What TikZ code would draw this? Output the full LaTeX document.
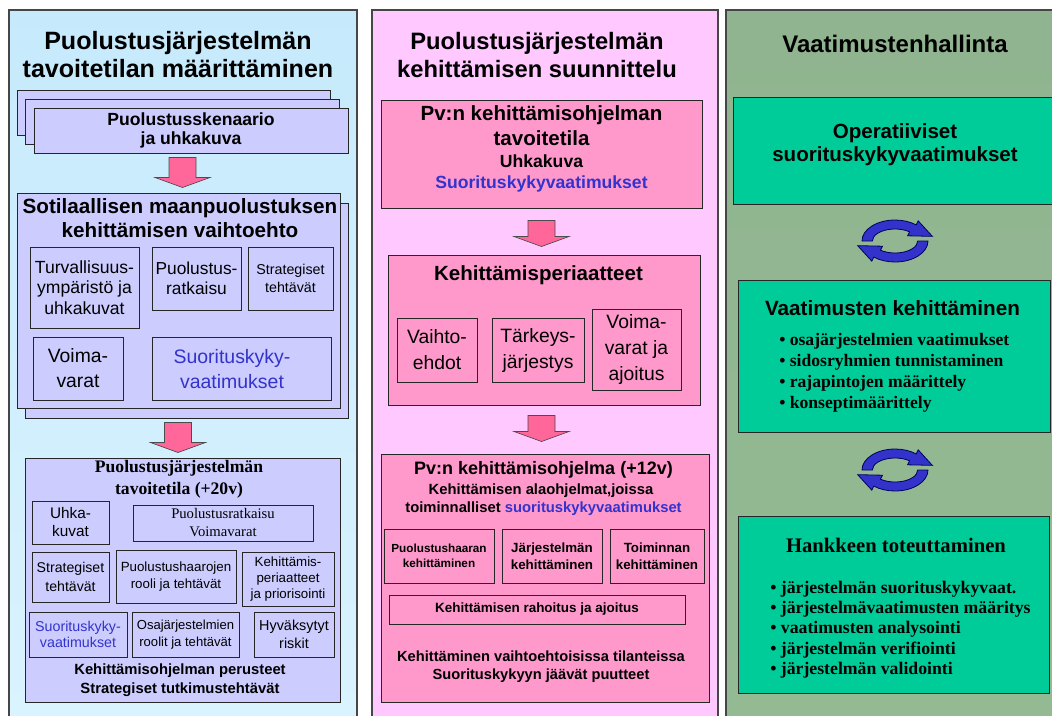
\documentclass[tikz,border=0pt]{standalone}
\usepackage{fontspec}
\setmainfont{Liberation Serif}
\setsansfont{Liberation Sans}
\usetikzlibrary{calc}

\definecolor{lav}{RGB}{204,204,255}
\definecolor{pinkbox}{RGB}{255,153,204}
\definecolor{pinkarrow}{RGB}{255,102,153}
\definecolor{tealbox}{RGB}{0,204,153}
\definecolor{reqblue}{RGB}{51,51,204}
\definecolor{cycblue}{RGB}{51,51,204}
\definecolor{cycedge}{RGB}{0,0,90}
\definecolor{frame}{RGB}{70,70,70}

\newcommand{\fsz}[2]{\fontsize{#1pt}{#2pt}\selectfont}

% rectangular node given by its corners (px units)
\newcommand{\boxnode}[7]{%
  \node[#1, minimum width={(#5-#3)*0.75pt}, minimum height={(#6-#4)*0.75pt}] (#2)
    at ({(#3+#5)/2},{(#4+#6)/2}) {#7};}

% pink block arrow between two nodes: x, upper, lower, top gap, bottom gap
\newcommand{\flowarrow}[5]{%
  \coordinate (fa0) at (#1,0);
  \filldraw[pinkarr] ($(fa0 |- #2.south)+(-13.5,#4)$) -- ($(fa0 |- #2.south)+(13.5,#4)$)
    -- ($(fa0 |- #3.north)+(13.5,-#5-10)$) -- ($(fa0 |- #3.north)+(27.5,-#5-10)$)
    -- ($(fa0 |- #3.north)+(0,-#5)$) -- ($(fa0 |- #3.north)+(-27.5,-#5-10)$)
    -- ($(fa0 |- #3.north)+(-13.5,-#5-10)$) -- cycle;}

% two curved arrows forming a cycle
\newcommand{\cycleicon}[1]{%
  \begin{scope}[shift={(#1)}]
    \foreach \r in {0,180}{
      \filldraw[fill=cycblue, draw=cycedge, line width=0.6pt, rotate=\r]
        (180:24.75pt and 15.75pt)
        arc[start angle=180, end angle=50, x radius=24.75pt, y radius=15.75pt]
        -- (17.4pt,15.1pt) -- (28pt,3.5pt) -- (9.4pt,3.9pt)
        -- (50:17pt and 9pt)
        arc[start angle=50, end angle=180, x radius=17pt, y radius=9pt] -- cycle;}
  \end{scope}}

\tikzset{
  colframe/.style={draw=frame, line width=1.1pt},
  lcol/.style={colframe, top color={rgb,255:red,198;green,234;blue,252}, bottom color={rgb,255:red,218;green,243;blue,255}},
  mcol/.style={colframe, top color={rgb,255:red,255;green,200;blue,255}, middle color={rgb,255:red,255;green,240;blue,255}, bottom color={rgb,255:red,255;green,200;blue,255}},
  rcol/.style={colframe, top color={rgb,255:red,143;green,180;blue,143}, middle color={rgb,255:red,204;green,245;blue,204}, bottom color={rgb,255:red,148;green,186;blue,148}},
  lbox/.style={draw=black!85, line width=0.75pt, fill=lav, inner sep=0pt, align=center},
  pbox/.style={draw=black!85, line width=0.75pt, fill=pinkbox, inner sep=0pt},
  tbox/.style={draw=black!85, line width=0.75pt, fill=tealbox, inner sep=0pt},
  ibox/.style={draw=black!85, line width=0.75pt, align=center, inner sep=0pt},
  txt/.style={align=center, inner sep=0pt},
  ln/.style={anchor=base, inner sep=0pt},
  pinkarr/.style={fill=pinkarrow, draw=black!70, line width=0.5pt},
}

\begin{document}
\begin{tikzpicture}[x=0.75pt,y=-0.75pt]
\useasboundingbox (0,0) rectangle (1052,715);
\fill[white] (0,0) rectangle (1052,715);
\clip (0,0) rectangle (1052,715);

% ---------- left column ----------
\boxnode{lcol}{lcolumn}{9}{10}{357}{730}{}
\node[txt, font=\sffamily\bfseries\fsz{18.8}{21}] (ltitle) at (178,55)
  {Puolustusjärjestelmän\\tavoitetilan määrittäminen};

\boxnode{lbox}{card1}{17}{90}{330}{135}{}
\boxnode{lbox}{card2}{25}{99}{339}{144}{}
\boxnode{lbox, font=\sffamily\bfseries\fsz{13.2}{14.5}}{card3}{34}{108}{348}{153}
  {Puolustusskenaario\\ja uhkakuva}

\boxnode{lbox}{sotback}{25}{203}{348}{418}{}
\boxnode{lbox}{sot}{17}{193}{340}{408}{}
\node[txt, font=\sffamily\bfseries\fsz{15.5}{18}] (sottitle) at (180,218.5)
  {Sotilaallisen maanpuolustuksen\\kehittämisen vaihtoehto};
\boxnode{ibox, font=\sffamily\fsz{13.2}{15.4}}{turv}{30}{247}{139}{328}{Turvallisuus-\\ympäristö ja\\uhkakuvat}
\boxnode{ibox, font=\sffamily\fsz{13}{15}}{puolr}{152}{247}{241}{310}{Puolustus-\\ratkaisu}
\boxnode{ibox, font=\sffamily\fsz{10.7}{13.5}}{strat}{248}{247}{333}{310}{Strategiset\\tehtävät}
\boxnode{ibox, font=\sffamily\fsz{14.5}{18.75}}{voima}{33}{337}{123}{400}{Voima-\\varat}
\boxnode{ibox}{sk1}{152}{337}{331}{400}{}
\node[txt, font=\sffamily\fsz{14.6}{18.75}, text=reqblue] (sk1text) at (232,369)
  {Suorituskyky-\\vaatimukset};

\boxnode{lbox}{target}{25}{458}{340}{702}{}
\node[txt, font=\rmfamily\bfseries\fsz{13.2}{16.5}] (targettitle) at (179,479.5)
  {Puolustusjärjestelmän\\tavoitetila (+20v)};
\boxnode{ibox, font=\sffamily\fsz{11.5}{13.5}}{uhka}{32}{501}{109}{544}{Uhka-\\kuvat}
\boxnode{ibox, font=\rmfamily\fsz{11}{13.5}}{prv}{133}{505}{313}{541}{Puolustusratkaisu\\Voimavarat}
\boxnode{ibox, font=\sffamily\fsz{10.6}{14}}{strat2}{32}{552}{109}{602}{Strategiset\\tehtävät}
\boxnode{ibox, font=\sffamily\fsz{10}{12.75}}{ph}{116}{550}{236}{603}{Puolustushaarojen\\rooli ja tehtävät}
\boxnode{ibox, font=\sffamily\fsz{10}{11.8}}{kp}{242}{552}{334}{606}{Kehittämis-\\periaatteet\\ja priorisointi}
\boxnode{ibox, font=\sffamily\fsz{10.7}{12.5}, text=reqblue}{sk2}{29}{612}{127}{657}{Suorituskyky-\\vaatimukset}
\boxnode{ibox, font=\sffamily\fsz{9.8}{12.5}}{oj}{132}{612}{239}{657}{Osajärjestelmien\\roolit ja tehtävät}
\boxnode{ibox, font=\sffamily\fsz{10.8}{13}}{hr}{254}{612}{334}{657}{Hyväksytyt\\riskit}
\node[txt, font=\sffamily\bfseries\fsz{11.1}{14.25}] (targetfoot) at (180,680.5)
  {Kehittämisohjelman perusteet\\Strategiset tutkimustehtävät};

\flowarrow{182.5}{card3}{sot}{4}{5}
\flowarrow{178}{sotback}{target}{4}{5}

% ---------- middle column ----------
\boxnode{mcol}{mcolumn}{372}{10}{718}{730}{}
\node[txt, font=\sffamily\bfseries\fsz{17.8}{21.5}] (mtitle) at (537,55)
  {Puolustusjärjestelmän\\kehittämisen suunnittelu};

\boxnode{pbox}{pvgoal}{381}{100}{702}{208}{}
\node[ln, font=\sffamily\bfseries\fsz{15.4}{17}] (pv1) at (541.5,120) {Pv:n kehittämisohjelman};
\node[ln, font=\sffamily\bfseries\fsz{15.4}{17}] (pv2) at (541.5,145) {tavoitetila};
\node[ln, font=\sffamily\bfseries\fsz{13.2}{15}] (pv3) at (541.5,167) {Uhkakuva};
\node[ln, font=\sffamily\bfseries\fsz{13.2}{15}, text=reqblue] (pv4) at (541.5,188) {Suorituskykyvaatimukset};

\boxnode{pbox}{princ}{388}{255}{700}{405}{}
\node[ln, font=\sffamily\bfseries\fsz{15.4}{17}] (princtitle) at (538.5,280) {Kehittämisperiaatteet};
\boxnode{ibox, font=\sffamily\fsz{14.5}{19.5}}{vaihto}{397}{318}{477}{382}{Vaihto-\\ehdot}
\boxnode{ibox, font=\sffamily\fsz{14.5}{19.5}}{tark}{492}{318}{584}{382}{Tärkeys-\\järjestys}
\boxnode{ibox, font=\sffamily\fsz{14.5}{19.5}}{vara}{592}{309}{681}{390}{Voima-\\varat ja\\ajoitus}

\boxnode{pbox}{prog}{381}{454}{709}{702}{}
\node[ln, font=\sffamily\bfseries\fsz{13.5}{15}] (progtitle) at (543.5,474) {Pv:n kehittämisohjelma (+12v)};
\node[ln, font=\sffamily\bfseries\fsz{11.1}{13}] (prog2) at (541,494) {Kehittämisen alaohjelmat,joissa};
\node[ln, font=\sffamily\bfseries\fsz{11.1}{13}] (prog3) at (543.5,512)
  {toiminnalliset \textcolor{reqblue}{suorituskykyvaatimukset}};
\boxnode{ibox, font=\sffamily\bfseries\fsz{8.8}{11}}{phk}{384}{529}{494}{583}{Puolustushaaran\\kehittäminen}
\boxnode{ibox, font=\sffamily\bfseries\fsz{10}{12.5}}{jk}{502}{529}{602}{583}{Järjestelmän\\kehittäminen}
\boxnode{ibox, font=\sffamily\bfseries\fsz{10}{12.5}}{tk}{610}{529}{704}{583}{Toiminnan\\kehittäminen}
\boxnode{ibox, font=\sffamily\bfseries\fsz{10.1}{11}}{rah}{389}{595}{685}{624}{Kehittämisen rahoitus ja ajoitus}
\node[txt, font=\sffamily\bfseries\fsz{11}{13.5}] (progfoot) at (541,666.5)
  {Kehittäminen vaihtoehtoisissa tilanteissa\\Suorituskykyyn jäävät puutteet};

\flowarrow{541.5}{pvgoal}{princ}{12}{8}
\flowarrow{541.5}{princ}{prog}{10}{12}

% ---------- right column ----------
\boxnode{rcol}{rcolumn}{726}{10}{1070}{730}{}
\node[ln, font=\sffamily\bfseries\fsz{18}{21}] (rtitle) at (895,52) {Vaatimustenhallinta};

\boxnode{tbox}{oper}{733}{97}{1070}{204}{}
\node[txt, font=\sffamily\bfseries\fsz{15.4}{17.25}] (opertext) at (895,144.5)
  {Operatiiviset\\suorituskykyvaatimukset};

\boxnode{tbox}{vkdev}{738}{280}{1050}{432}{}
\node[ln, font=\sffamily\bfseries\fsz{15.5}{17}] (vktitle) at (892.5,315) {Vaatimusten kehittäminen};
\node[txt, align=left, anchor=west, font=\rmfamily\bfseries\fsz{13.2}{15.75}] (vklist) at (779,372.5)
  {• osajärjestelmien vaatimukset\\• sidosryhmien tunnistaminen\\• rajapintojen määrittely\\• konseptimäärittely};

\boxnode{tbox}{hank}{738}{516}{1049}{693}{}
\node[ln, font=\rmfamily\bfseries\fsz{15.5}{18}] (hanktitle) at (896,552) {Hankkeen toteuttaminen};
\node[txt, align=left, anchor=west, font=\rmfamily\bfseries\fsz{13.3}{15.2}] (hanklist) at (770,629.5)
  {• järjestelmän suorituskykyvaat.\\• järjestelmävaatimusten määritys\\• vaatimusten analysointi\\• järjestelmän verifiointi\\• järjestelmän validointi};

\coordinate (cyc1) at (895,241);
\coordinate (cyc2) at (895,470);
\cycleicon{cyc1}
\cycleicon{cyc2}
\end{tikzpicture}
\end{document}
